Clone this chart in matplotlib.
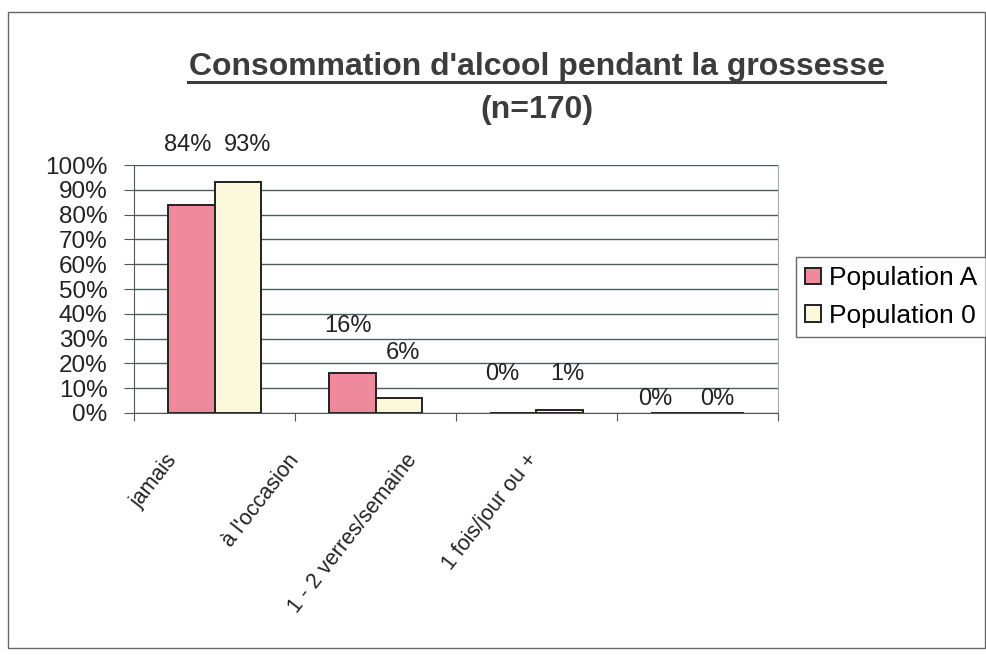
import matplotlib
matplotlib.use("Agg")
import matplotlib.pyplot as plt
import numpy as np
from matplotlib.patches import Rectangle

categories = ["jamais", "à l'occasion", "1 - 2 verres/semaine", "1 fois/jour ou +"]
pop_a = [84, 16, 0, 0]
pop_0 = [93, 6, 1, 0]
series_names = ["Population A", "Population 0"]
yticks = list(range(0, 101, 10))

# layout of the value labels as placed in the original chart (data-unit heights, pixel x offsets)
label_y_a = [108, 35, 15.7, 5.6]
label_y_0 = [108, 24, 15.7, 5.6]
label_dx_a = [-3, -4, -11, -19]
label_dx_0 = [10, 4, 8, -4]
# anchor (top-right end) of the rotated category labels, in data x units
cat_label_x = [-0.305, 0.452, 1.185, 1.93]

plt.rcParams['font.family'] = ['Liberation Sans', 'DejaVu Sans']
txt = '#222222'

fig = plt.figure(figsize=(9.87, 6.55), dpi=100)
ax = fig.add_axes([0.1358, 0.3695, 0.6524, 0.3785])

x = np.arange(len(categories))
w = 0.29
pink = '#EE8A9C'
cream = '#FBF8DC'
ax.bar(x - w/2, pop_a, w, color=pink, edgecolor='#222222', linewidth=1.4, label=series_names[0], zorder=3)
ax.bar(x + w/2, pop_0, w, color=cream, edgecolor='#222222', linewidth=1.4, label=series_names[1], zorder=3)

for i in range(len(categories)):
    ax.annotate(f"{pop_a[i]}%", (x[i] - w/2, label_y_a[i]), xytext=(label_dx_a[i], 0),
                textcoords='offset pixels', ha='center', va='center', fontsize=17,
                color=txt, annotation_clip=False)
    ax.annotate(f"{pop_0[i]}%", (x[i] + w/2, label_y_0[i]), xytext=(label_dx_0[i], 0),
                textcoords='offset pixels', ha='center', va='center', fontsize=17,
                color=txt, annotation_clip=False)

ax.set_xlim(-0.5, len(categories) - 0.5)
ax.set_ylim(0, 100)
ax.set_yticks(yticks)
ax.set_yticklabels([f"{t}%" for t in yticks], fontsize=17.5, color=txt)
ax.yaxis.grid(True, color='#4d5c5c', linewidth=1.0, zorder=0)
ax.set_axisbelow(True)

ax.set_xticks(np.arange(-0.5, len(categories), 1.0))
ax.set_xticklabels([])
ax.tick_params(axis='x', which='major', length=6, color='#555555', direction='out')
ax.tick_params(axis='y', length=7, color='#555555', direction='out', pad=12)

for i, c in enumerate(categories):
    ax.text(cat_label_x[i], -0.149, c, transform=ax.get_xaxis_transform(), rotation=52,
            rotation_mode='anchor', ha='right', va='top', fontsize=15.5, color=txt)

ax.spines['top'].set_visible(False)
ax.spines['right'].set_color('#aaaaaa')
ax.spines['right'].set_linestyle((0, (2, 1)))
ax.spines['left'].set_color('#555555')
ax.spines['bottom'].set_color('#555555')

# Title
title_col = '#3c3c3c'
fig.text(0.5436, 1 - 75/655, "Consommation d'alcool pendant la grossesse", ha='center', va='baseline',
         fontsize=23, fontweight='bold', color=title_col)
fig.add_artist(plt.Line2D([0.1905, 0.8967], [1 - 82/655, 1 - 82/655], color=title_col, linewidth=2.2))
fig.text(0.5436, 1 - 110/655, "(n=170)", ha='center', va='center', fontsize=23, fontweight='bold',
         color=title_col)

# Legend
leg = fig.legend(loc='center left', bbox_to_anchor=(0.806, 1 - 297/655), fontsize=19, frameon=True,
                 fancybox=False, edgecolor='#444444', handlelength=0.6, handleheight=0.6,
                 handletextpad=0.3, borderpad=0.35, labelspacing=0.5, borderaxespad=0)
leg.get_frame().set_linewidth(1.0)

# Outer frame
fig.add_artist(Rectangle((0.008, 0.01), 0.99, 0.972, transform=fig.transFigure, fill=False,
                         edgecolor='#666666', linewidth=1.0))

fig.savefig("out.png", dpi=100)
